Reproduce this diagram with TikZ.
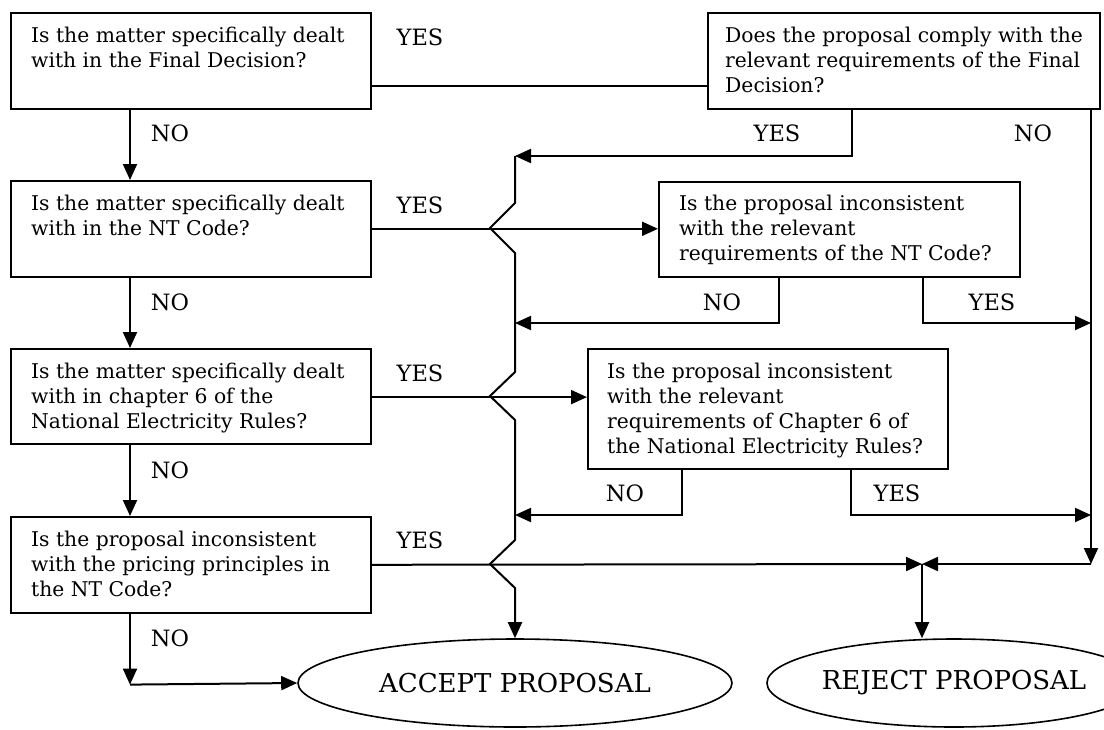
\documentclass[tikz,border=0pt]{standalone}
\usepackage{fontspec}
\setmainfont{DejaVu Serif}
\usetikzlibrary{arrows.meta,calc,shapes.geometric}
\begin{document}
\begin{tikzpicture}[x=1pt,y=-1pt,
  box/.style={draw, line width=1.6pt, inner sep=0pt, anchor=north west},
  txt/.style={font=\fontsize{20.3}{25}\selectfont, align=left, inner sep=0pt, anchor=north west},
  lab/.style={font=\fontsize{22.5}{26}\selectfont, inner sep=0pt},
  term/.style={draw, ellipse, line width=1.6pt, inner sep=0pt, font=\fontsize{26}{30}\selectfont},
  ln/.style={line width=2pt},
  arr/.style={line width=2pt, -{Triangle[length=16pt,width=14pt]}}]
\useasboundingbox (0,0) rectangle (1104,729);
% boxes
\node[box, minimum width=360pt, minimum height=96pt] (b1) at (10,12) {};
\node[box, minimum width=392pt, minimum height=96pt] (b2) at (707,12) {};
\node[box, minimum width=360pt, minimum height=96pt] (b3) at (10,180) {};
\node[box, minimum width=360pt, minimum height=95pt] (b4) at (10,348) {};
\node[box, minimum width=360pt, minimum height=96pt] (b5) at (10,516) {};
\node[box, minimum width=361pt, minimum height=95pt] (b6) at (658,181) {};
\node[box, minimum width=360pt, minimum height=120pt] (b7) at (587,348) {};
% texts
\node[txt] (t1) at ($(b1.north west)+(21,15)$) {Is the matter specifically dealt\\with in the Final Decision?};
\node[txt] (t2) at ($(b2.north west)+(18,15)$) {Does the proposal comply with the\\relevant requirements of the Final\\Decision?};
\node[txt] (t3) at ($(b3.north west)+(21,15)$) {Is the matter specifically dealt\\with in the NT Code?};
\node[txt] (t4) at ($(b4.north west)+(21,15)$) {Is the matter specifically dealt\\with in chapter 6 of the\\National Electricity Rules?};
\node[txt] (t5) at ($(b5.north west)+(21,15)$) {Is the proposal inconsistent\\with the pricing principles in\\the NT Code?};
\node[txt] (t6) at ($(b6.north west)+(21,14)$) {Is the proposal inconsistent\\with the relevant\\requirements of the NT Code?};
\node[txt] (t7) at ($(b7.north west)+(20,15)$) {Is the proposal inconsistent\\with the relevant\\requirements of Chapter 6 of\\the National Electricity Rules?};
% terminals
\node[term, minimum width=434pt, minimum height=88pt] (acc) at (515,683) {ACCEPT PROPOSAL};
\node[term, minimum width=292pt, minimum height=88pt] (rej) at (954,683) {REJECT PROPOSAL};
% labels
\node[lab] (y1) at (420,37) {YES};
\node[lab] (y3) at (420,205) {YES};
\node[lab] (y4) at (420,373) {YES};
\node[lab] (y5) at (420,540) {YES};
\node[lab] (y2) at (777,133) {YES};
\node[lab] (n2) at (1033,133) {NO};
\node[lab] (n1) at (170,133) {NO};
\node[lab] (n3) at (170,302) {NO};
\node[lab] (n4) at (170,470) {NO};
\node[lab] (n5) at (170,638) {NO};
\node[lab] (n6) at (722,302) {NO};
\node[lab] (y6) at (992,302) {YES};
\node[lab] (n7) at (625,493) {NO};
\node[lab] (y7) at (897,493) {YES};
% coordinates
\coordinate (bus) at (515,156);
\coordinate (m6) at (515,323);
\coordinate (m7) at (515,515);
\coordinate (r6) at (1091,323);
\coordinate (r7) at (1091,515);
\coordinate (mr) at (1091,564);
\coordinate (mg) at (922,564);
\coordinate (s1) at ($(b1.south east)+(0,-24)$);
\coordinate (s4) at ($(b4.south east)+(0,-47.5)$);
% connectors
\draw[ln] (s1) -- (s1 -| b2.west);
\draw[arr] ($(b2.south west)+(145,0)$) |- (bus);
\draw[arr] ($(b2.south west)+(384,0)$) -- (mr);
\draw[arr] (mr) -- (mg);
\draw[arr] (bus) -- (515,203) -- (490,228) -- (515,253) -- (515,372) -- (490,396) -- (515,420)
  -- (515,540) -- (490,564) -- (515,588) -- (acc.north);
\draw[arr] ($(b1.south west)+(120,0)$) -- ($(b3.north west)+(120,0)$);
\draw[arr] ($(b3.south west)+(120,0)$) -- ($(b4.north west)+(120,0)$);
\draw[arr] ($(b4.south west)+(120,0)$) -- ($(b5.north west)+(120,0)$);
\draw[arr] ($(b5.south west)+(120,0)$) -- ++(0,71) coordinate (nc);
\draw[arr] (nc) -- (acc.west);
\draw[arr] (b3.east) -- (b3.east -| b6.west);
\draw[arr] (s4) -- (s4 -| b7.west);
\draw[arr] (b5.east) -- (mg);
\draw[arr] ($(b6.south west)+(121,0)$) |- (m6);
\draw[arr] ($(b6.south west)+(265,0)$) |- (r6);
\draw[arr] ($(b7.south west)+(95,0)$) |- (m7);
\draw[arr] ($(b7.south west)+(264,0)$) |- (r7);
\draw[arr] (mg) -- (mg |- rej.north);
\end{tikzpicture}
\end{document}
